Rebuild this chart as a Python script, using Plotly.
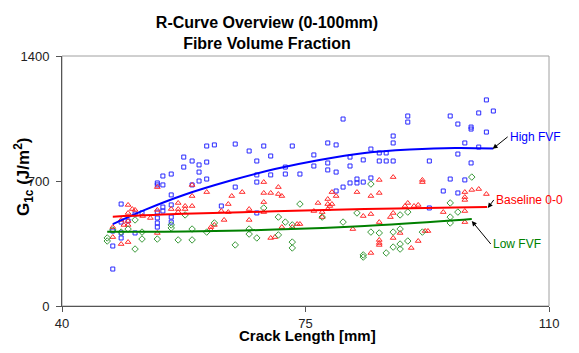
import plotly.graph_objects as go

# ---------------- data ----------------
# High FVF (blue squares)
high_x = [57.5, 57.5, 54.5, 55.7, 53.7, 53.7, 54.5, 55.7, 48.5, 54.5,
          55.7, 53.7, 54.5, 50.5, 51.5, 49.5, 48.5, 53.7, 55.7, 53.7,
          55.7, 50.5, 48.5, 48.5, 47.3, 47.3, 47.3, 53.7,
          60.8, 61.9, 64.9, 69.0, 66.9, 70.0, 58.7, 59.7, 60.8, 59.7,
          68.0, 59.7, 60.8, 68.0, 70.0, 68.0, 64.9, 58.7, 62.9, 68.0,
          80.4, 73.1, 78.2, 79.4, 76.2, 81.4, 72.1, 76.2, 78.2, 72.1,
          74.2, 78.2, 79.4, 81.4, 83.3, 82.4, 82.4, 81.4, 83.3, 80.4, 79.4,
          89.7, 89.7, 95.8, 87.6, 87.6, 84.4, 85.6, 86.6, 85.6, 86.6,
          87.6, 92.8, 84.4, 95.8, 94.8, 92.8,
          101.0, 99.9, 102.0, 96.9, 98.8, 98.8, 101.0, 97.9, 99.9, 96.9,
          98.8, 97.9, 96.9]
high_y = [834, 778, 728, 739, 689, 678, 678, 622, 571, 554,
          566, 526, 532, 515, 521, 476, 470, 493, 498, 465,
          470, 409, 409, 381, 420, 336, 207, 442,
          896, 902, 907, 896, 868, 840, 812, 790, 806, 750,
          812, 700, 711, 734, 734, 694, 666, 678, 560, 521,
          1047, 896, 913, 902, 846, 834, 778, 784, 801, 739,
          739, 762, 750, 784, 818, 711, 689, 689, 694, 666, 644,
          1064, 1030, 1064, 952, 913, 879, 857, 857, 812, 812,
          812, 812, 717, 711, 644, 549,
          1154, 1081, 1092, 1019, 1002, 991, 974, 913, 890, 851,
          801, 706, 633]

# Baseline 0-0 (red triangles)
base_x = [49.5, 53.7, 50.1, 50.5, 49.5, 51.6, 52.7, 53.7, 55.7, 56.7, 56.7,
          48.5, 48.9, 49.5, 49.5, 47.3, 48.5, 49.5, 53.7, 47.3, 57.7, 56.7,
          58.7, 60.8, 58.7, 64.4, 65.9, 69.0, 69.0, 70.0, 69.0, 57.7, 58.7,
          63.9, 62.9, 66.9, 69.0, 63.9, 63.3, 66.9, 61.9, 61.4, 61.4, 70.0,
          71.1, 71.1, 71.6, 78.8, 79.4, 78.2, 76.8, 78.2, 78.8, 78.5, 82.4,
          76.2, 77.4, 78.2, 77.4, 83.3, 73.8, 74.2, 73.1, 71.6, 81.8, 70.6,
          87.6, 85.6, 91.8, 91.8, 84.4, 85.6, 89.7, 89.3, 90.6, 91.2, 87.6,
          84.4, 87.2, 94.8, 85.6, 92.2, 92.6, 85.6, 85.6, 85.6, 87.6, 88.6,
          91.2, 90.2, 84.4,
          98.9, 99.9, 101.0, 97.9, 97.9, 97.9, 97.9, 97.9]
base_y = [566, 666, 543, 538, 521, 504, 493, 538, 543, 543, 526,
          482, 454, 454, 476, 442, 347, 358, 409, 386, 543, 577,
          678, 638, 616, 616, 638, 694, 633, 633, 582, 560, 560,
          571, 532, 543, 526, 526, 482, 482, 454, 442, 426, 381,
          666, 627, 616, 638, 616, 599, 577, 571, 571, 560, 638,
          532, 526, 543, 498, 504, 459, 459, 442, 442, 431, 386,
          722, 706, 706, 694, 616, 633, 577, 560, 560, 566, 521,
          515, 498, 526, 470, 420, 420, 370, 353, 342, 381, 409,
          364, 325, 297,
          650, 655, 627, 638, 610, 594, 532, 470]

# Low FVF (green diamonds)
low_x = [46.5, 46.5, 47.3, 48.5, 49.5, 50.5, 51.5, 51.5, 53.7, 50.5, 55.7, 55.7, 56.7,
         57.7, 58.7, 60.8, 61.9, 66.9, 66.9, 69.0, 68.0, 58.7, 64.9,
         74.2, 71.1, 72.1, 73.1, 82.4, 80.4, 71.1, 73.1, 73.1, 83.3, 83.3, 77.4,
         84.4, 89.7, 88.6, 95.8, 95.8, 95.8, 84.4, 85.6, 87.6, 88.6, 91.8, 89.7,
         87.6, 88.6, 88.6, 86.6,
         98.9, 96.9]
low_y = [381, 364, 426, 414, 431, 482, 414, 375, 375, 319, 454, 437, 370,
         510, 431, 414, 465, 431, 403, 549, 381, 370, 342,
         571, 498, 470, 454, 521, 470, 398, 358, 325, 286, 274, 498,
         683, 526, 510, 577, 498, 465, 414, 409, 414, 431, 414, 364,
         330, 347, 319, 297,
         722, 526]

# Trendlines
trend_high_x = [47.3, 52.0, 57.5, 64.0, 70.6, 77.0, 83.5, 90.0, 96.5, 102.0]
trend_high_y = [459, 540, 622, 700, 767, 818, 857, 876, 885, 882]
trend_base_x = [47.3, 57.5, 70.6, 83.5, 96.5, 101.1]
trend_base_y = [500, 516, 530, 543, 551, 554]
trend_low_x = [46.5, 57.7, 70.6, 83.5, 96.5, 98.9]
trend_low_y = [416, 417, 428, 448, 480, 487]

x_ticks = [40, 75, 110]
y_ticks = [0, 700, 1400]

FONT = "Arial, Liberation Sans, sans-serif"

fig = go.Figure()

fig.add_trace(go.Scatter(x=high_x, y=high_y, mode="markers", name="High FVF",
                         marker=dict(symbol="square-open", size=4, color="#2828ff",
                                     line=dict(width=1, color="#2828ff"))))
fig.add_trace(go.Scatter(x=base_x, y=base_y, mode="markers", name="Baseline 0-0",
                         marker=dict(symbol="triangle-up-open", size=5, color="#ff2a2a",
                                     line=dict(width=1, color="#ff2a2a"))))
fig.add_trace(go.Scatter(x=low_x, y=low_y, mode="markers", name="Low FVF",
                         marker=dict(symbol="diamond-open", size=5, color="#3a9a3a",
                                     line=dict(width=1, color="#3a9a3a"))))

fig.add_trace(go.Scatter(x=trend_high_x, y=trend_high_y, mode="lines",
                         line=dict(color="#0000ff", width=2, shape="spline")))
fig.add_trace(go.Scatter(x=trend_base_x, y=trend_base_y, mode="lines",
                         line=dict(color="#ff0000", width=2, shape="spline")))
fig.add_trace(go.Scatter(x=trend_low_x, y=trend_low_y, mode="lines",
                         line=dict(color="#008000", width=2, shape="spline")))

# plot frame (top/right grey)
fig.add_shape(type="rect", xref="paper", yref="paper", x0=0, y0=0, x1=1, y1=1,
              line=dict(color="#a0a0a0", width=1), layer="below")

fig.update_xaxes(range=[40, 110], tickvals=x_ticks, ticks="outside", ticklen=5,
                 tickcolor="#555555", showline=True, linecolor="#555555", linewidth=1,
                 showgrid=False, zeroline=False,
                 tickfont=dict(family=FONT, size=13, color="#222222"))
fig.update_yaxes(range=[0, 1400], tickvals=y_ticks, ticks="outside", ticklen=5,
                 tickcolor="#555555", showline=True, linecolor="#555555", linewidth=1,
                 showgrid=False, zeroline=False, ticklabelstandoff=4,
                 tickfont=dict(family=FONT, size=13, color="#222222"))

annotations = [
    dict(text="<b>G<sub>1c</sub> (J/m<sup>2</sup>)</b>", textangle=-90,
         xref="paper", yref="paper", x=(23 - 62) / 487, y=(306 - 177) / 250,
         xanchor="center", yanchor="middle", showarrow=False,
         font=dict(family=FONT, size=17, color="#000000")),
    dict(text="<b>Crack Length [mm]</b>", xref="paper", yref="paper",
         x=(307 - 62) / 487, y=(306 - 335) / 250, xanchor="center", yanchor="middle",
         showarrow=False, font=dict(family=FONT, size=15, color="#000000")),
    dict(text="High FVF", x=101.9, y=880, xref="x", yref="y", ax=15, ay=-12,
         xanchor="left", yanchor="middle", showarrow=True, arrowhead=2, arrowsize=1,
         arrowwidth=1, arrowcolor="#000000",
         font=dict(family=FONT, size=12, color="#0000ff")),
    dict(text="Baseline 0-0", x=101.2, y=549, xref="x", yref="y", ax=6, ay=-8,
         xanchor="left", yanchor="middle", showarrow=True, arrowhead=2, arrowsize=1,
         arrowwidth=1, arrowcolor="#000000",
         font=dict(family=FONT, size=12, color="#ff0000")),
    dict(text="Low FVF", x=98.9, y=476, xref="x", yref="y", ax=19, ay=23,
         xanchor="left", yanchor="middle", showarrow=True, arrowhead=2, arrowsize=1,
         arrowwidth=1, arrowcolor="#000000",
         font=dict(family=FONT, size=12, color="#008000")),
]

fig.update_layout(
    width=579, height=353,
    margin=dict(l=62, r=30, t=56, b=47),
    paper_bgcolor="white", plot_bgcolor="white",
    showlegend=False,
    title=dict(text="<b>R-Curve Overview (0-100mm)<br>Fibre Volume Fraction</b>",
               xref="container", yref="container", x=267 / 579, y=1 - 28 / 353,
               xanchor="center", yanchor="middle",
               font=dict(family=FONT, size=16, color="#000000")),
    annotations=annotations,
)

fig.write_html("out.html", config={"displayModeBar": False},
               post_script="document.body.style.margin='0';document.body.style.padding='0';")
